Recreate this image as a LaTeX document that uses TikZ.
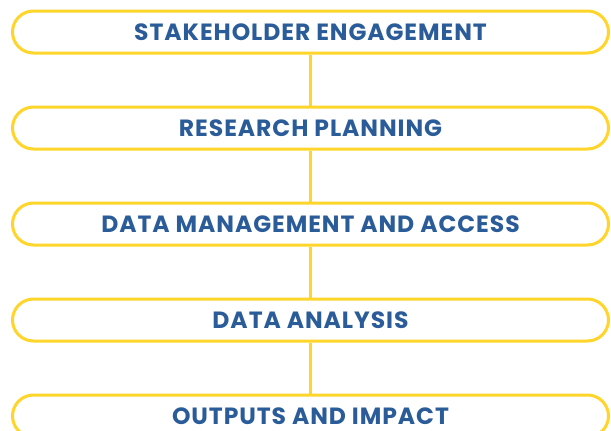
\documentclass[tikz,border=0pt]{standalone}
\usepackage{fontspec}
\setmainfont{Poppins}
\newfontfamily\stagefont[LetterSpace=4]{Poppins}
\usepackage{xcolor}
\usetikzlibrary{positioning}

\definecolor{stageyellow}{HTML}{FDD52B}
\definecolor{stageblue}{HTML}{2B5C9A}

\begin{document}
\begin{tikzpicture}[
    x=1pt, y=1pt,
    stage/.style={rectangle, draw=stageyellow, line width=3pt, rounded corners=21pt, fill=white, minimum width=596pt, minimum height=42pt, text=stageblue, font=\stagefont\fontsize{23.5}{25}\selectfont\bfseries},
    line/.style={draw=stageyellow, line width=2.5pt}
]
\useasboundingbox (0,0) rectangle (611,-431);

% Stages
\node [stage] (engage) at (310.5,-32) {STAKEHOLDER ENGAGEMENT};
\node [stage, below=51pt of engage] (plan) {RESEARCH PLANNING};
\node [stage, below=51pt of plan] (data) {DATA MANAGEMENT AND ACCESS};
\node [stage, below=51pt of data] (analysis) {DATA ANALYSIS};
\node [stage, below=51pt of analysis] (impact) {OUTPUTS AND IMPACT};

% Connections
\draw [line] (engage) -- (plan);
\draw [line] (plan) -- (data);
\draw [line] (data) -- (analysis);
\draw [line] (analysis) -- (impact);

\end{tikzpicture}
\end{document}
